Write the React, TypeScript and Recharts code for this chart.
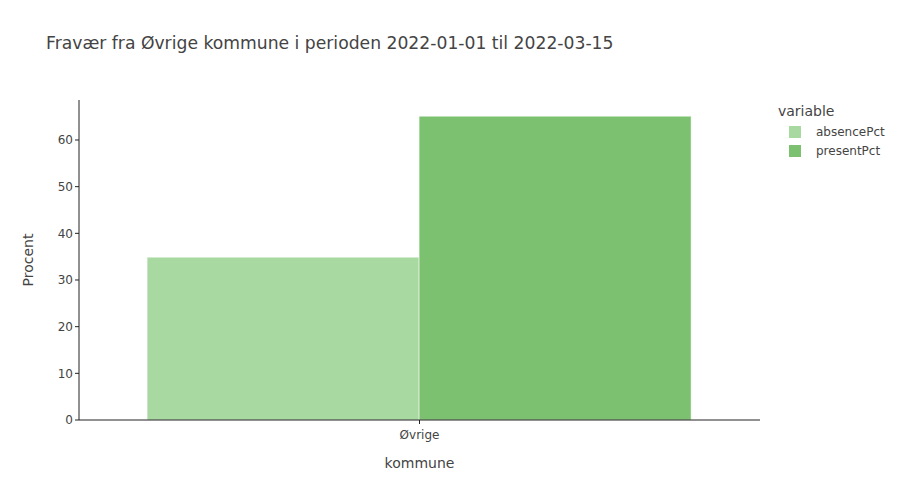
import { BarChart, Bar, XAxis, YAxis } from 'recharts';

const categories = ['Øvrige'];
const absencePct = [34.9];
const presentPct = [65.1];
const yTicks = [0, 10, 20, 30, 40, 50, 60];

const SERIES = [
  { key: 'absencePct', color: '#a8d9a0' },
  { key: 'presentPct', color: '#7cc16f' }
];

const FONT = '"DejaVu Sans", Verdana, sans-serif';
const AXIS = '#222';

const data = categories.map((kommune, i) => ({
  kommune,
  absencePct: absencePct[i],
  presentPct: presentPct[i]
}));

// legend drawn as plain html so it does not eat into the plot area
function VariableLegend() {
  return (
    <div style={{ position: 'absolute', left: 778, top: 103, fontFamily: FONT, color: '#444' }}>
      <div style={{ fontSize: 14, marginBottom: 3 }}>variable</div>
      {SERIES.map((s) => (
        <div key={s.key} style={{ display: 'flex', alignItems: 'center', height: 19, fontSize: 12 }}>
          <span style={{ display: 'inline-block', width: 12, height: 12, background: s.color, marginLeft: 11, marginRight: 15 }} />
          {s.key}
        </div>
      ))}
    </div>
  );
}

export default function App() {
  return (
    <div style={{ position: 'relative', width: 900, height: 500, margin: -8, background: '#fff', fontFamily: FONT }}>
      <div style={{ position: 'absolute', left: 46, top: 33, fontSize: 17.2, color: '#444', whiteSpace: 'nowrap' }}>
        Fravær fra Øvrige kommune i perioden 2022-01-01 til 2022-03-15
      </div>
      <BarChart
        width={900}
        height={500}
        data={data}
        margin={{ top: 100, right: 140, bottom: 0, left: 0 }}
        barCategoryGap="10%"
        barGap={0}
      >
        <XAxis
          dataKey="kommune"
          axisLine={{ stroke: AXIS }}
          tickLine={{ stroke: AXIS }}
          tickSize={4}
          tick={{ fontSize: 12, fill: '#444', fontFamily: FONT }}
          tickMargin={6}
          label={{ value: 'kommune', position: 'insideBottom', offset: 32, fontSize: 14, fill: '#444', fontFamily: FONT }}
          height={80}
        />
        <YAxis
          width={79}
          domain={[0, 68.57]}
          ticks={yTicks}
          axisLine={{ stroke: AXIS }}
          tickLine={{ stroke: AXIS }}
          tickSize={4}
          tick={{ fontSize: 12, fill: '#444', fontFamily: FONT }}
          label={{ value: 'Procent', angle: -90, position: 'insideLeft', offset: 28, fontSize: 14, fill: '#444', fontFamily: FONT, style: { textAnchor: 'middle' } }}
        />
        {SERIES.map((s) => (
          <Bar key={s.key} dataKey={s.key} fill={s.color} stroke="#fff" strokeWidth={0.5} isAnimationActive={false} />
        ))}
      </BarChart>
      <VariableLegend />
    </div>
  );
}
